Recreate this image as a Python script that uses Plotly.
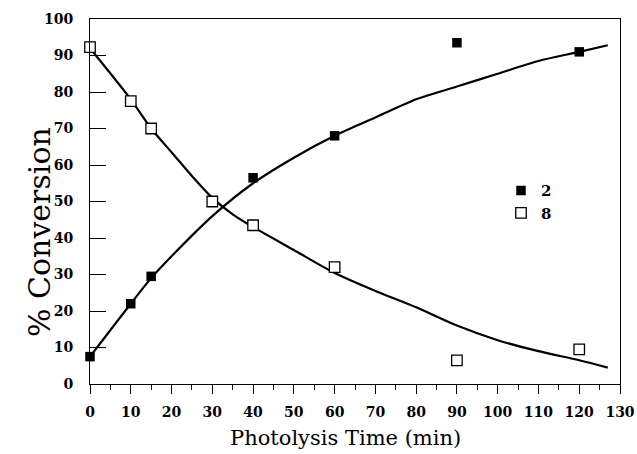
import plotly.graph_objects as go

# measured points
t2 = [0, 10, 15, 40, 60, 90, 120]
conv2 = [7.5, 22, 29.5, 56.5, 68, 93.5, 91]
t8 = [0, 10, 15, 30, 40, 60, 90, 120]
conv8 = [92.3, 77.5, 70, 50, 43.5, 32, 6.5, 9.5]

# fitted curves
fit2_t = [0, 10, 15, 20, 30, 40, 50, 60, 70, 80, 90, 100, 110, 120, 127]
fit2 = [7.5, 22, 29, 35, 46, 55, 62, 68, 73, 78, 81.5, 85, 88.5, 91, 92.8]
fit8_t = [0, 10, 15, 20, 25, 30, 35, 40, 50, 60, 70, 80, 90, 100, 110, 120, 127]
fit8 = [92, 78, 70, 63.5, 57, 51, 46.5, 43, 36.7, 30.4, 25.5, 21, 16, 12, 9, 6.5, 4.5]

xticks = list(range(0, 131, 10))
yticks = list(range(0, 101, 10))

serif = "DejaVu Serif"
W, H = 637, 454
L, R, T, B = 90, 17, 19, 70
PW, PH = W - L - R, H - T - B

fig = go.Figure()
fig.add_trace(go.Scatter(x=fit2_t, y=fit2, mode="lines",
                         line=dict(color="black", width=2.2, shape="spline", smoothing=0.8),
                         showlegend=False, hoverinfo="skip"))
fig.add_trace(go.Scatter(x=fit8_t, y=fit8, mode="lines",
                         line=dict(color="black", width=2.2, shape="spline", smoothing=0.8),
                         showlegend=False, hoverinfo="skip"))
fig.add_trace(go.Scatter(x=t2, y=conv2, mode="markers", name="2", cliponaxis=False,
                         marker=dict(symbol="square", size=9.5, color="black")))
fig.add_trace(go.Scatter(x=t8, y=conv8, mode="markers", name="8", cliponaxis=False,
                         marker=dict(symbol="square", size=10.5, color="white",
                                     line=dict(color="black", width=1.3))))

fig.update_layout(
    width=W, height=H,
    margin=dict(l=L, r=R, t=T, b=B),
    plot_bgcolor="white", paper_bgcolor="white",
    font=dict(family=serif, color="black"),
    legend=dict(x=(501 - L) / PW, y=0.575, xanchor="left", yanchor="top", bgcolor="rgba(0,0,0,0)",
                font=dict(family=serif, size=15, weight="bold"), itemwidth=30, tracegroupgap=0),
    xaxis=dict(range=[0, 130], tickvals=xticks, ticktext=[str(v) for v in xticks],
               automargin=False, ticklabeloverflow="allow",
               showgrid=False, zeroline=False, showline=True, linecolor="black", linewidth=1,
               mirror=True, ticks="outside", ticklen=9, tickwidth=1, tickcolor="black",
               minor=dict(dtick=5, ticks="outside", ticklen=5, tickcolor="black"),
               ticklabelstandoff=6,
               tickfont=dict(family=serif, size=14, weight="bold")),
    yaxis=dict(range=[0, 100], tickvals=yticks, ticktext=[str(v) for v in yticks],
               automargin=False, ticklabeloverflow="allow",
               showgrid=False, zeroline=False, showline=True, linecolor="black", linewidth=1,
               mirror=True, ticks="inside", ticklen=16, tickwidth=1, tickcolor="black",
               ticklabelstandoff=13,
               tickfont=dict(family=serif, size=14, weight="bold")),
    annotations=[
        dict(text="Photolysis Time (min)", xref="paper", yref="paper",
             x=(345 - L) / PW, y=-(438 - (H - B)) / PH, xanchor="center", yanchor="middle",
             showarrow=False, font=dict(family=serif, size=21)),
        dict(text="% Conversion", xref="paper", yref="paper", textangle=-90,
             x=-(L - 40) / PW, y=((H - B) - 232) / PH, xanchor="center", yanchor="middle",
             showarrow=False, font=dict(family=serif, size=30)),
    ],
)

fig.write_html("out.html", config={"displayModeBar": False},
               post_script="document.body.style.margin='0';")
